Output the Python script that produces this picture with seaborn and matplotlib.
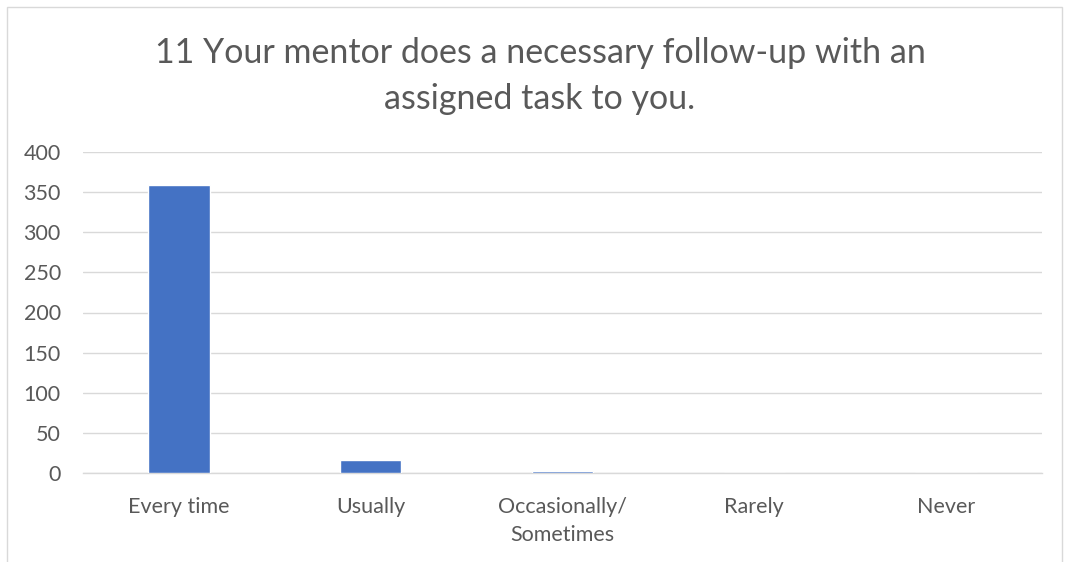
import matplotlib
matplotlib.use("Agg")
import matplotlib.pyplot as plt
import seaborn as sns
import pandas as pd
from matplotlib.patches import Rectangle

categories = ["Every time", "Usually", "Occasionally/\nSometimes", "Rarely", "Never"]
values = [359, 16, 2, 0, 0]
yticks = [0, 50, 100, 150, 200, 250, 300, 350, 400]
title = "11 Your mentor does a necessary follow-up with an\nassigned task to you."

sns.set_theme(style="white")
plt.rcParams['font.family'] = ['Lato', 'DejaVu Sans']

df = pd.DataFrame({"cat": categories, "val": values})

fig = plt.figure(figsize=(10.65, 5.62), dpi=100)
ax = fig.add_axes([83/1065, 1 - 473/562, (1042-83)/1065, (473-152)/562])
sns.barplot(data=df, x="cat", y="val", color="#4472C4", width=0.32, ax=ax,
            saturation=1, zorder=3)
ax.set_ylim(0, 400)
ax.set_yticks(yticks)
ax.set_xlim(-0.5, 4.5)
ax.yaxis.grid(True, color="#D9D9D9", linewidth=1, zorder=0)
ax.set_axisbelow(True)
for s in ["top", "right", "left"]:
    ax.spines[s].set_visible(False)
ax.spines["bottom"].set_color("#D9D9D9")
ax.spines["bottom"].set_linewidth(1)
ax.set_xlabel("")
ax.set_ylabel("")
ax.tick_params(axis="both", length=0, labelsize=15.5, colors="#595959")
ax.tick_params(axis="x", pad=17)
ax.tick_params(axis="y", pad=16)
for lbl in ax.get_xticklabels():
    lbl.set_linespacing(1.55)
fig.text(540/1065, 1 - 76/562, title, ha="center", va="center", fontsize=24.5,
         color="#595959", linespacing=1.55)

fig.patches.append(Rectangle((7/1065, -0.01), (1062-7)/1065, 1 - 7/562 + 0.01,
                             transform=fig.transFigure, fill=False,
                             edgecolor="#D9D9D9", linewidth=1))
fig.savefig("out.png", dpi=100, facecolor="white")
